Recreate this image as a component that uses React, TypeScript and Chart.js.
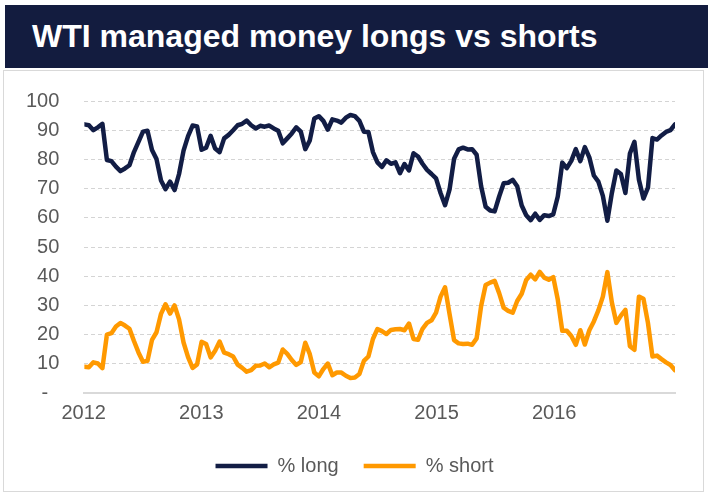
import React, { useEffect, useRef } from 'react';
import { Chart, registerables } from 'chart.js';

Chart.register(...registerables);

// Fortnightly observations starting on the first Tuesday of 2012
const START_YEAR = 2012;
const START_DAY = 2; // days after 1 Jan 2012
const STEP_DAYS = 14;
const YEAR_TICKS = [2012, 2013, 2014, 2015, 2016];

const LONG = [
  92, 91.7, 90, 91, 92.2, 79.8, 79.4, 77.5, 76, 76.9, 78, 82.5, 86, 89.5, 89.8, 83.2,
  80.1, 72.8, 69.8, 72.4, 69.5, 75, 83, 88, 91.6, 91.3, 83.3, 84, 88.1, 83.7, 82.5, 87.2,
  88.4, 90, 91.7, 92.2, 93.3, 91.7, 90.6, 91.5, 91.2, 91.6, 90.6, 89.8, 85.5, 87.2, 88.9, 91,
  89.5, 83.5, 86.5, 94, 94.8, 93.2, 90.2, 93.7, 93.3, 92.6, 94.3, 95.2, 94.8, 93.2, 89.5, 89.4,
  82.5, 79, 77.4, 79.7, 78.5, 79, 75.3, 78.4, 76.2, 82.1, 81, 78.5, 76.4, 75, 73.5, 68.5,
  64.3, 69.7, 80.2, 83.4, 84, 83.4, 83.5, 81.6, 70.8, 63.8, 62.5, 62.2, 67.3, 71.8, 72, 73,
  70.8, 64.2, 60.9, 59.2, 61.4, 59.3, 60.9, 60.6, 61.2, 67.3, 78.9, 77, 79.5, 83.5, 79.4, 84.2,
  80.7, 74.5, 72.4, 67.5, 59, 68.5, 76.2, 75, 68.5, 82, 86, 73, 66.6, 70.3, 87.3, 86.8,
  88.2, 89.4, 90, 92,
];

const SHORT = [
  9, 8.8, 10.5, 10.1, 8.5, 20, 20.5, 22.8, 24, 23.1, 22, 17.8, 13.9, 10.7, 11, 18.2,
  20.8, 27.1, 30.4, 27.2, 30, 25.2, 17.3, 12.3, 8.6, 9.8, 17.5, 16.8, 12.2, 14.5, 17.6, 13.8,
  13.3, 12.5, 9.7, 8.6, 7.3, 7.8, 9.3, 9.4, 10.1, 8.8, 9.8, 10.4, 14.9, 13.4, 11.3, 9.6,
  10.6, 17.2, 13.3, 7, 5.7, 8.2, 10.1, 6.1, 7, 7, 5.9, 5.1, 5.3, 6.5, 11, 12.5,
  18.5, 21.9, 21.2, 20.2, 21.6, 21.8, 21.9, 21.5, 23.8, 18.5, 18.2, 22, 24, 24.9, 27.5, 33,
  36.2, 27, 18.1, 17, 16.8, 16.9, 16.5, 18.7, 29.8, 37, 37.8, 38.4, 34.2, 29.2, 28.1, 27.5,
  31.5, 34, 38.7, 40.5, 38.9, 41.5, 39.5, 38.8, 39.7, 32, 21.3, 21.3, 19.5, 16.5, 21.5, 16.6,
  21.5, 24.5, 28.3, 33, 41.4, 31, 24, 26.5, 28.5, 16, 14.8, 33, 32.3, 24, 12.5, 12.8,
  11.6, 10.5, 9.6, 7.8,
];

const NAVY = '#121d45';
const ORANGE = '#ff9900';
const TEXT = '#595959';
const FONT = "'Liberation Sans', Arial, sans-serif";

export default function App() {
  const canvasRef = useRef<HTMLCanvasElement>(null);

  useEffect(() => {
    document.body.style.margin = '0';
    const xs = LONG.map((_, i) => START_YEAR + (START_DAY + STEP_DAYS * i) / 365.25);
    const legendShift = {
      id: 'legendShift',
      afterLayout(chart: any) {
        if (chart.legend) {
          chart.legend.left += 16.5;
          chart.legend.right += 16.5;
        }
      },
    };
    const chart = new Chart(canvasRef.current!, {
      type: 'line',
      data: {
        datasets: [
          {
            label: '% long',
            data: LONG.map((v, i) => ({ x: xs[i], y: v })),
            borderColor: NAVY,
            backgroundColor: NAVY,
            borderWidth: 4.5,
            pointRadius: 0,
            pointStyle: 'line',
            borderCapStyle: 'round',
            borderJoinStyle: 'round',
            tension: 0,
          },
          {
            label: '% short',
            data: SHORT.map((v, i) => ({ x: xs[i], y: v })),
            borderColor: ORANGE,
            backgroundColor: ORANGE,
            borderWidth: 4.5,
            pointRadius: 0,
            pointStyle: 'line',
            borderCapStyle: 'round',
            borderJoinStyle: 'round',
            tension: 0,
          },
        ],
      },
      options: {
        animation: false,
        responsive: false,
        maintainAspectRatio: false,
        layout: { padding: { left: 1, right: 33, top: 0, bottom: 11 } },
        scales: {
          x: {
            type: 'linear',
            min: xs[0],
            max: xs[xs.length - 1],
            afterBuildTicks: (scale: any) => {
              scale.ticks = YEAR_TICKS.map((v) => ({ value: v }));
            },
            afterFit: (scale: any) => {
              scale.height -= 2;
            },
            ticks: {
              autoSkip: false,
              maxRotation: 0,
              padding: 8,
              color: TEXT,
              font: { family: FONT, size: 20 },
              callback: (v: any) => String(v),
            },
            grid: { display: false, drawTicks: false },
            border: { display: true, color: '#d9d9d9', width: 2 },
          },
          y: {
            min: 0,
            max: 100,
            ticks: {
              stepSize: 10,
              padding: 25,
              color: TEXT,
              font: { family: FONT, size: 20 },
              callback: (v: any) => (v === 0 ? '-  ' : String(v)),
            },
            grid: {
              drawTicks: false,
              lineWidth: 1,
              color: (ctx: any) => (ctx.tick && ctx.tick.value === 0 ? 'rgba(0,0,0,0)' : '#d4d4d4'),
            },
            border: { display: false, dash: [4, 3] },
          },
        },
        plugins: {
          legend: {
            position: 'bottom',
            labels: {
              usePointStyle: true,
              pointStyleWidth: 52,
              padding: 25,
              color: TEXT,
              font: { family: FONT, size: 20 },
            },
          },
          tooltip: { enabled: false },
        },
      },
      plugins: [legendShift],
    } as any);
    return () => chart.destroy();
  }, []);

  return (
    <div style={{ position: 'relative', width: 708, height: 497, overflow: 'hidden', background: '#fff' }}>
      <div
        style={{
          position: 'absolute',
          left: 5,
          top: 5,
          width: 703,
          height: 63,
          background: '#131c3f',
          color: '#fff',
          fontFamily: FONT,
          fontWeight: 'bold',
          fontSize: 32,
          display: 'flex',
          alignItems: 'center',
          paddingLeft: 27,
          boxSizing: 'border-box',
          whiteSpace: 'nowrap',
        }}
      >
        WTI managed money longs vs shorts
      </div>
      <div
        style={{
          position: 'absolute',
          left: 3,
          top: 70,
          width: 701,
          height: 422,
          border: '1px solid #d9d9d9',
          boxSizing: 'border-box',
        }}
      />
      <canvas
        ref={canvasRef}
        width={708}
        height={433}
        style={{ position: 'absolute', left: 0, top: 64, width: 708, height: 433 }}
      />
    </div>
  );
}
